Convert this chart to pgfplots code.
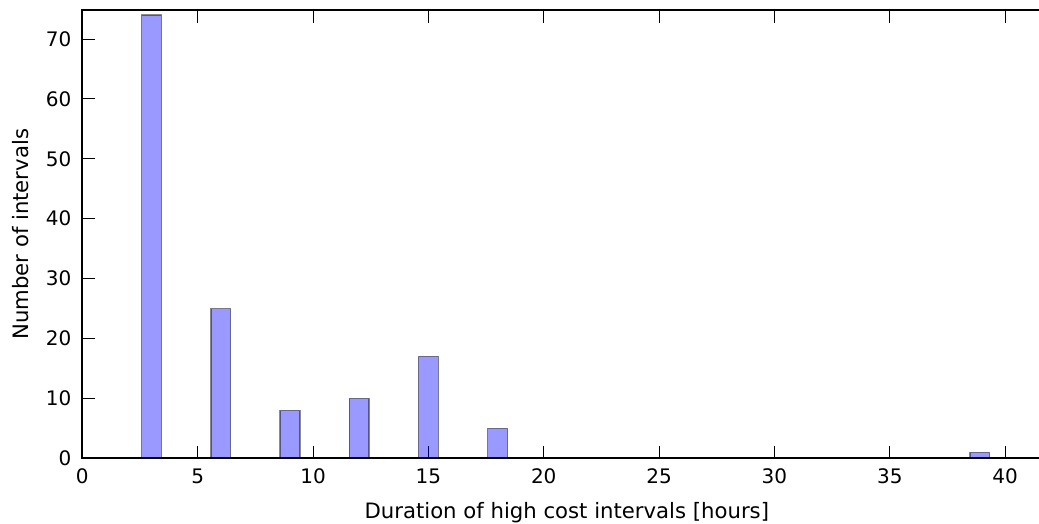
\documentclass[border=0pt]{standalone}
\usepackage{fontspec}
\setmainfont{DejaVu Sans}
\usepackage{pgfplots}
\pgfplotsset{compat=1.18}
\begin{document}
\begin{tikzpicture}
\begin{axis}[
  at={(0,0)}, anchor=south west,
  scale only axis,
  width=484.5pt, height=224pt,
  xmin=0, xmax=42, ymin=0, ymax=74.8,
  xtick={0,5,...,40}, ytick={0,10,...,70},
  minor tick num=0,
  tick style={black, line width=0.5pt},
  axis line style={line width=0.8pt},
  /pgf/number format/assume math mode=true,
  tick label style={font=\fontsize{10}{12}\selectfont, inner sep=0pt},
  label style={font=\fontsize{10.6}{12}\selectfont},
  xticklabel style={anchor=base, yshift=-12.5pt},
  yticklabel style={anchor=east, xshift=-5.3pt},
  xlabel={Duration of high cost intervals [hours]},
  ylabel={Number of intervals},
  xlabel style={at={([yshift=-30pt]axis description cs:0.5,0)}, anchor=base, inner sep=0pt},
  ylabel style={at={([xshift=-27pt]axis description cs:0,0.5)}, anchor=base, inner sep=0pt},
  ybar, bar width=0.86, bar shift=0pt,
  xtick pos=both, ytick pos=both,
  xtick align=inside, ytick align=inside,
  major tick length=6.3pt,
]
\addplot[ybar, fill=blue, fill opacity=0.4, draw=black, draw opacity=0.45, line width=0.7pt]
  coordinates {(3,74) (6,25) (9,8) (12,10) (15,17) (18,5) (38.9,1)};
\end{axis}
\pgfresetboundingbox
\path[use as bounding box] (-41.15pt,-32.85pt) rectangle (478.35pt,229.15pt);
\end{tikzpicture}
\end{document}
